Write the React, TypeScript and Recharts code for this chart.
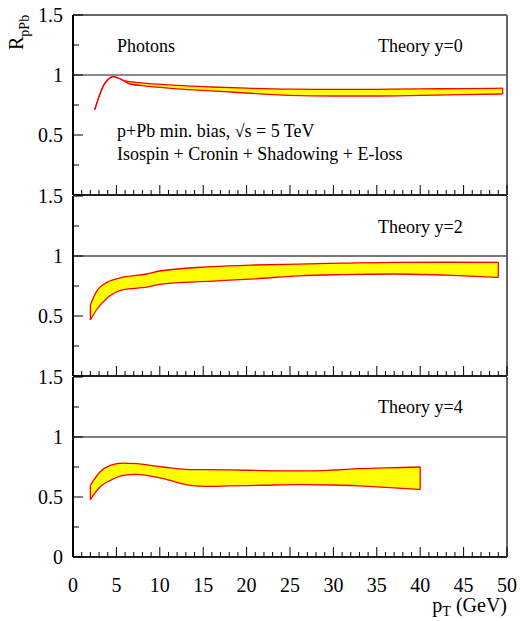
import React from 'react';
import { ComposedChart, Area, XAxis, YAxis, ReferenceLine } from 'recharts';

// y = 0 panel (band collapses to a single line below ~5.7 GeV)
const ptY0 = [2.5, 3, 3.5, 4, 4.6, 5.2, 5.7, 6.6, 8.5, 12, 16, 20, 25, 30, 35, 40, 45, 49.5];
const hiY0 = [0.71, 0.82, 0.91, 0.96, 0.986, 0.975, 0.958, 0.945, 0.93, 0.913, 0.9, 0.89, 0.882, 0.88, 0.881, 0.884, 0.887, 0.89];
const loY0 = [0.71, 0.82, 0.91, 0.96, 0.986, 0.975, 0.958, 0.925, 0.908, 0.885, 0.867, 0.85, 0.83, 0.825, 0.825, 0.83, 0.836, 0.842];

// y = 2 panel
const ptY2 = [2, 2.7, 3.9, 5.8, 8.5, 10, 16, 21, 26, 31, 37, 43, 49];
const hiY2 = [0.592, 0.703, 0.78, 0.823, 0.85, 0.875, 0.911, 0.925, 0.933, 0.94, 0.947, 0.948, 0.947];
const loY2 = [0.467, 0.55, 0.647, 0.72, 0.74, 0.764, 0.79, 0.81, 0.835, 0.845, 0.85, 0.84, 0.822];

// y = 4 panel
const ptY4 = [2, 3.1, 4.3, 5.8, 7.3, 10.4, 13.5, 15.4, 18, 22, 26, 30, 33, 36, 40];
const hiY4 = [0.597, 0.708, 0.764, 0.783, 0.778, 0.75, 0.728, 0.728, 0.726, 0.72, 0.717, 0.725, 0.736, 0.742, 0.75];
const loY4 = [0.478, 0.583, 0.639, 0.681, 0.689, 0.653, 0.597, 0.589, 0.592, 0.598, 0.603, 0.6, 0.592, 0.58, 0.562];

const xMajor = [0, 5, 10, 15, 20, 25, 30, 35, 40, 45, 50];
const xTicks = Array.from({ length: 51 }, (_, i) => i);
const yTicks = [0, 0.25, 0.5, 0.75, 1, 1.25, 1.5];
const yLabels: Record<number, string> = { 0: '0', 0.5: '0.5', 1: '1', 1.5: '1.5' };

const FONT = '"Liberation Serif", "DejaVu Serif", serif';
const W = 520;

const XTick = (props: any) => {
  const { x, y, payload, showLabel } = props;
  const v = payload.value;
  const major = xMajor.includes(v);
  return (
    <g>
      <line x1={x} x2={x} y1={y} y2={y - (major ? 10 : 5)} stroke="#000" strokeWidth={1} />
      {showLabel && major && (
        <text x={x} y={y + 35} textAnchor="middle" fontSize={20} fontFamily={FONT} fill="#000">
          {v}
        </text>
      )}
    </g>
  );
};

const YTick = (props: any) => {
  const { x, y, payload, showZero } = props;
  const v = payload.value;
  const label = yLabels[v];
  const major = label !== undefined;
  return (
    <g>
      <line x1={x} x2={x + (major ? 10 : 6)} y1={y} y2={y} stroke="#000" strokeWidth={1} />
      {major && (v !== 0 || showZero) && (
        <text x={x - 10} y={y + 7} textAnchor="end" fontSize={20} fontFamily={FONT} fill="#000">
          {label}
        </text>
      )}
    </g>
  );
};

const xTitle = (props: any) => {
  const { viewBox } = props;
  const right = viewBox.x + viewBox.width;
  return (
    <text x={right} y={viewBox.y + 55} textAnchor="end" fontSize={20} fontFamily={FONT} fill="#000">
      p<tspan fontSize={14} dy={4}>T</tspan>
      <tspan dy={-4}> (GeV)</tspan>
    </text>
  );
};

type PanelProps = {
  pt: number[];
  lo: number[];
  hi: number[];
  top: number;
  bottom?: boolean;
  first?: boolean;
  oneLine: { stroke: string; width: number };
  closeStart?: boolean;
};

const Panel = ({ pt, lo, hi, top, bottom, first, oneLine, closeStart }: PanelProps) => {
  const rows = pt.map((p, i) => ({ pT: p, band: [lo[i], hi[i]] }));
  const n = pt.length - 1;
  const height = bottom ? 259 : 200;
  return (
    <div style={{ position: 'absolute', left: 0, top }}>
      <ComposedChart
        width={W}
        height={height}
        data={rows}
        margin={{ top: first ? 14 : 15, right: 12, bottom: bottom ? 0 : 4, left: 0 }}
      >
        <XAxis
          dataKey="pT"
          type="number"
          domain={[0, 50]}
          ticks={xTicks}
          interval={0}
          height={bottom ? 64 : 1}
          tickSize={0}
          tickMargin={0}
          tickLine={false}
          axisLine={{ stroke: '#222', strokeWidth: 2 }}
          tick={(p: any) => <XTick {...p} showLabel={!!bottom} />}
          label={bottom ? { content: xTitle } : undefined}
        />
        {first && (
          <XAxis
            xAxisId="top"
            orientation="top"
            type="number"
            domain={[0, 50]}
            height={1}
            tick={false}
            tickLine={false}
            axisLine={{ stroke: '#666', strokeWidth: 2 }}
          />
        )}
        <YAxis
          type="number"
          domain={[0, 1.5]}
          ticks={yTicks}
          interval={0}
          width={73}
          tickSize={0}
          tickMargin={0}
          tickLine={false}
          axisLine={{ stroke: '#000', strokeWidth: 2 }}
          tick={(p: any) => <YTick {...p} showZero={!!bottom} />}
        />
        <YAxis
          yAxisId="right"
          orientation="right"
          type="number"
          domain={[0, 1.5]}
          width={1}
          tick={false}
          tickLine={false}
          axisLine={{ stroke: '#666', strokeWidth: 2 }}
        />
        <ReferenceLine y={1} stroke={oneLine.stroke} strokeWidth={oneLine.width} />
        <Area
          dataKey="band"
          type="monotone"
          fill="#ffff00"
          fillOpacity={1}
          stroke="#ff0000"
          strokeWidth={1.3}
          dot={false}
          activeDot={false}
          isAnimationActive={false}
        />
        {closeStart && (
          <ReferenceLine
            segment={[{ x: pt[0], y: lo[0] }, { x: pt[0], y: hi[0] }]}
            stroke="#ff0000"
            strokeWidth={1.3}
          />
        )}
        <ReferenceLine
          segment={[{ x: pt[n], y: lo[n] }, { x: pt[n], y: hi[n] }]}
          stroke="#ff0000"
          strokeWidth={1.3}
        />
      </ComposedChart>
    </div>
  );
};

export default function App() {
  return (
    <div
      style={{
        position: 'absolute',
        left: 0,
        top: 0,
        width: W,
        height: 621,
        background: '#fff',
        fontFamily: FONT,
        overflow: 'hidden',
      }}
    >
      <Panel pt={ptY0} lo={loY0} hi={hiY0} top={0} first oneLine={{ stroke: '#666', width: 1.5 }} />
      <Panel pt={ptY2} lo={loY2} hi={hiY2} top={181} closeStart oneLine={{ stroke: '#777', width: 2 }} />
      <Panel pt={ptY4} lo={loY4} hi={hiY4} top={362} bottom closeStart oneLine={{ stroke: '#000', width: 1 }} />
      <svg
        width={W}
        height={621}
        style={{ position: 'absolute', left: 0, top: 0, pointerEvents: 'none' }}
        fontFamily={FONT}
        fill="#000"
      >
        <text transform="translate(23,50) rotate(-90)" fontSize={20}>
          R<tspan fontSize={14} dy={6}>pPb</tspan>
        </text>
        <text x={117} y={51.5} fontSize={18}>Photons</text>
        <text x={378} y={51.5} fontSize={18}>Theory y=0</text>
        <text x={117} y={137} fontSize={18}>p+Pb min. bias, √s = 5 TeV</text>
        <text x={117} y={160} fontSize={18}>Isospin + Cronin + Shadowing + E-loss</text>
        <text x={378} y={232.5} fontSize={18}>Theory y=2</text>
        <text x={378} y={413} fontSize={18}>Theory y=4</text>
      </svg>
    </div>
  );
}
